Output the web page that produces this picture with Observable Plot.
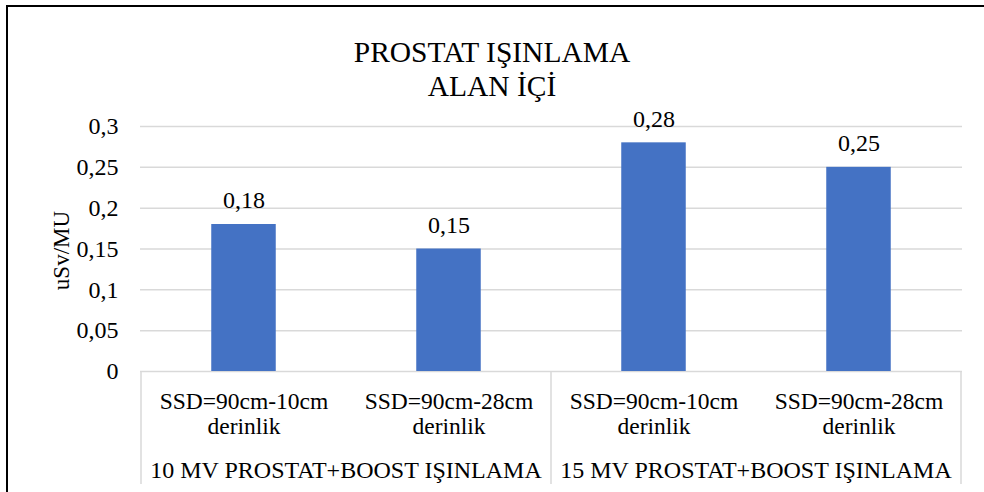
<!DOCTYPE html>
<html>
<head>
<meta charset="utf-8">
<script src="https://cdn.jsdelivr.net/npm/d3@7"></script>
<script src="https://cdn.jsdelivr.net/npm/@observablehq/plot@0.6"></script>
<style>
  html, body { margin: 0; padding: 0; background: #fff; }
  #chart { position: relative; width: 984px; height: 492px; overflow: hidden; background: #fff; font-family: 'Liberation Serif'; }
  #border { position: absolute; left: 6px; top: 5px; width: 1200px; height: 800px; border-left: 2px solid #000; border-top: 2px solid #000; }
  #title { position: absolute; left: 0; top: 35px; width: 984px; text-align: center; font-family: 'Liberation Serif'; font-size: 29.5px; line-height: 34px; color: #000; }
  #chart svg { position: absolute; left: 0; top: 0; }
  #chart svg text { font-family: 'Liberation Serif'; }
</style>
</head>
<body>
<div id="chart">
  <div id="border"></div>
  <div id="title">PROSTAT IŞINLAMA<br>ALAN İÇİ</div>
</div>
<script>
// Bar categories (measurement setups) and their beam-energy groups
const categories = ["10-a", "10-b", "15-a", "15-b"];
const categoryLabels = ["SSD=90cm-10cm\nderinlik", "SSD=90cm-28cm\nderinlik", "SSD=90cm-10cm\nderinlik", "SSD=90cm-28cm\nderinlik"];
const groups = ["10 MV PROSTAT+BOOST IŞINLAMA", "15 MV PROSTAT+BOOST IŞINLAMA"];
const groupMembers = [["10-a", "10-b"], ["15-a", "15-b"]];
// Dose per monitor unit (uSv/MU)
const values = [0.18, 0.15, 0.28, 0.25];
const yTicks = [0, 0.05, 0.1, 0.15, 0.2, 0.25, 0.3];
const yLabel = "uSv/MU";

const data = categories.map((c, i) => ({key: c, label: categoryLabels[i], value: values[i]}));
const comma = v => String(v).replace(".", ",");
const font = "'Liberation Serif'";
const grid = "#d9d9d9";
const fs = 24;

const plot = Plot.plot({
  width: 984,
  height: 492,
  marginLeft: 140,
  marginRight: 22,
  marginTop: 126,
  marginBottom: 121,
  style: {fontFamily: font, fontSize: fs + "px", color: "#000", background: "transparent"},
  x: {domain: categories, padding: 0, axis: null},
  y: {domain: [0, 0.3], axis: null},
  marks: [
    Plot.ruleY(yTicks, {stroke: grid, strokeWidth: 1.5}),
    Plot.axisY({ticks: yTicks, tickSize: 0, tickPadding: 22, tickFormat: comma, fontSize: fs, label: null}),
    Plot.barY(data, {x: "key", y: "value", fill: "#4472C4", insetLeft: 70.25, insetRight: 70.25}),
    Plot.text(data, {x: "key", y: "value", text: d => comma(d.value), dy: -24, lineAnchor: "middle", fontSize: fs, fill: "#000"}),
    Plot.text(data, {x: "key", text: "label", frameAnchor: "bottom", lineAnchor: "top", dy: 20, lineHeight: 1.06, fontSize: 23.5, fill: "#000"})
  ]
});

// Second axis level: group separators and centred group labels, placed from the x scale
const xs = plot.scale("x");
const ys = plot.scale("y");
const y0 = ys.apply(0);
const yTop = ys.apply(0.3);
const svg = d3.select(plot);
const g = svg.append("g");
const edges = new Set();
groupMembers.forEach((members, i) => {
  const left = xs.apply(members[0]);
  const right = xs.apply(members[members.length - 1]) + xs.bandwidth;
  edges.add(left); edges.add(right);
  g.append("text")
    .attr("x", (left + right) / 2)
    .attr("y", y0 + 106.5)
    .attr("text-anchor", "middle")
    .attr("font-size", fs)
    .attr("fill", "#000")
    .text(groups[i]);
});
for (const e of edges) {
  g.append("line")
    .attr("x1", e).attr("x2", e)
    .attr("y1", y0).attr("y2", y0 + 113)
    .attr("stroke", grid).attr("stroke-width", 1.5);
}

// Rotated y-axis title, centred on the value range
g.append("text")
  .attr("transform", `translate(69,${(y0 + yTop) / 2 + 2}) rotate(-90)`)
  .attr("text-anchor", "middle")
  .attr("font-size", 23)
  .attr("fill", "#000")
  .text(yLabel);

document.getElementById("chart").appendChild(plot);
</script>
</body>
</html>
